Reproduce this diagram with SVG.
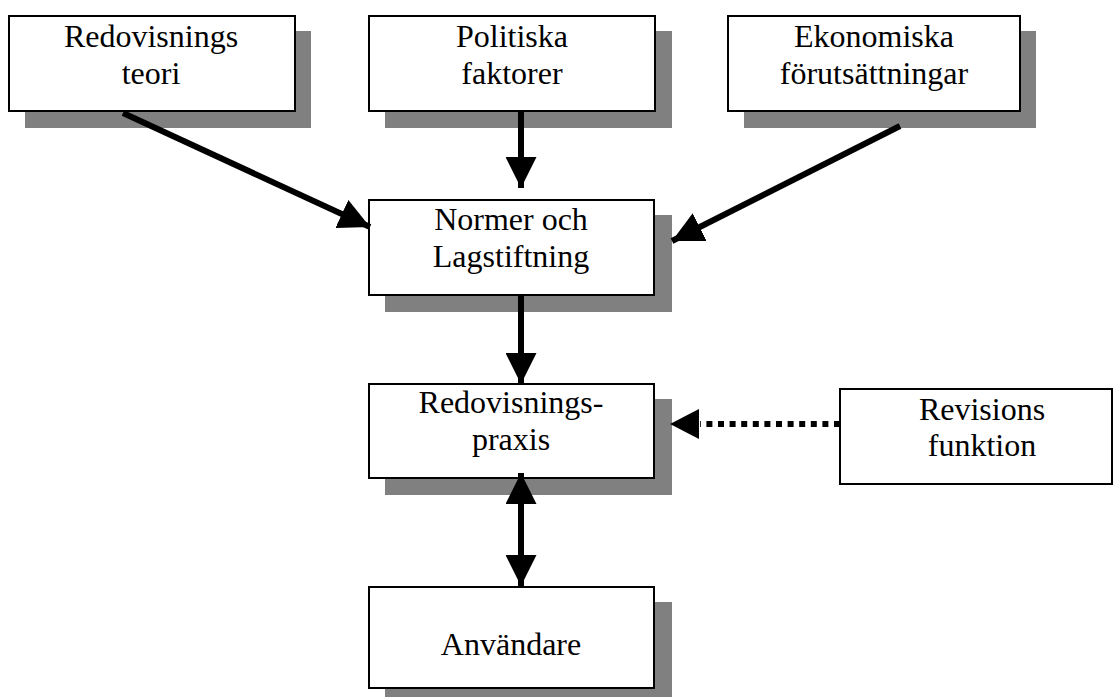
<svg xmlns="http://www.w3.org/2000/svg" width="1113" height="697" viewBox="0 0 1113 697">
<style>
.box{fill:#fff;stroke:#000;stroke-width:2}
.shadow{fill:#808080}
.lbl{font-family:'Liberation Serif','Times New Roman',serif;font-size:32px;fill:#000;text-anchor:middle}
.con{stroke:#000;stroke-width:6;fill:none}
.dot{stroke-dasharray:6 5.6}
</style>
<defs>
<marker id="ah" markerUnits="userSpaceOnUse" markerWidth="31" markerHeight="31" refX="31" refY="15.5" orient="auto-start-reverse" viewBox="0 0 31 31">
<path d="M0,0 L31,15.5 L0,31 z" fill="#000"/>
</marker>
</defs>
<rect width="1113" height="697" fill="#fff"/>
<g id="n-teori">
<rect class="shadow" x="25" y="31" width="286" height="97"/>
<rect class="box" x="9" y="16" width="286" height="95"/>
<text class="lbl" x="151" y="47">Redovisnings</text>
<text class="lbl" x="151" y="84">teori</text>
</g>
<g id="n-politiska">
<rect class="shadow" x="385" y="31" width="287" height="97"/>
<rect class="box" x="369" y="16" width="286" height="95"/>
<text class="lbl" x="512" y="47">Politiska</text>
<text class="lbl" x="512" y="84">faktorer</text>
</g>
<g id="n-ekonomiska">
<rect class="shadow" x="744" y="31" width="292" height="97"/>
<rect class="box" x="728" y="16" width="292" height="95"/>
<text class="lbl" x="874" y="47">Ekonomiska</text>
<text class="lbl" x="874" y="84">förutsättningar</text>
</g>
<g id="n-normer">
<rect class="shadow" x="385" y="215" width="287" height="97"/>
<rect class="box" x="369" y="200" width="285" height="95"/>
<text class="lbl" x="511" y="230">Normer och</text>
<text class="lbl" x="511" y="267">Lagstiftning</text>
</g>
<g id="n-praxis">
<rect class="shadow" x="385" y="399" width="287" height="96"/>
<rect class="box" x="369" y="384" width="285" height="94"/>
<text class="lbl" x="511" y="413">Redovisnings-</text>
<text class="lbl" x="511" y="450">praxis</text>
</g>
<g id="n-revisions">
<rect class="box" x="840" y="389" width="272" height="95"/>
<text class="lbl" x="982" y="420">Revisions</text>
<text class="lbl" x="982" y="456">funktion</text>
</g>
<g id="n-anvandare">
<rect class="shadow" x="385" y="602" width="287" height="101"/>
<rect class="box" x="369" y="587" width="285" height="101"/>
<text class="lbl" x="511" y="655">Användare</text>
</g>
<g id="connectors">
<line class="con" x1="123" y1="113" x2="370" y2="227" marker-end="url(#ah)"/>
<line class="con" x1="521" y1="112" x2="521" y2="188" marker-end="url(#ah)"/>
<line class="con" x1="900" y1="126" x2="672" y2="241" marker-end="url(#ah)"/>
<line class="con" x1="521" y1="295" x2="521" y2="384" marker-end="url(#ah)"/>
<line class="con dot" x1="840" y1="424" x2="700" y2="424"/>
<path d="M699,409 L670,424 L699,439 z" fill="#000"/>
<line class="con" x1="521" y1="473" x2="521" y2="586" marker-start="url(#ah)" marker-end="url(#ah)"/>
</g>
</svg>
